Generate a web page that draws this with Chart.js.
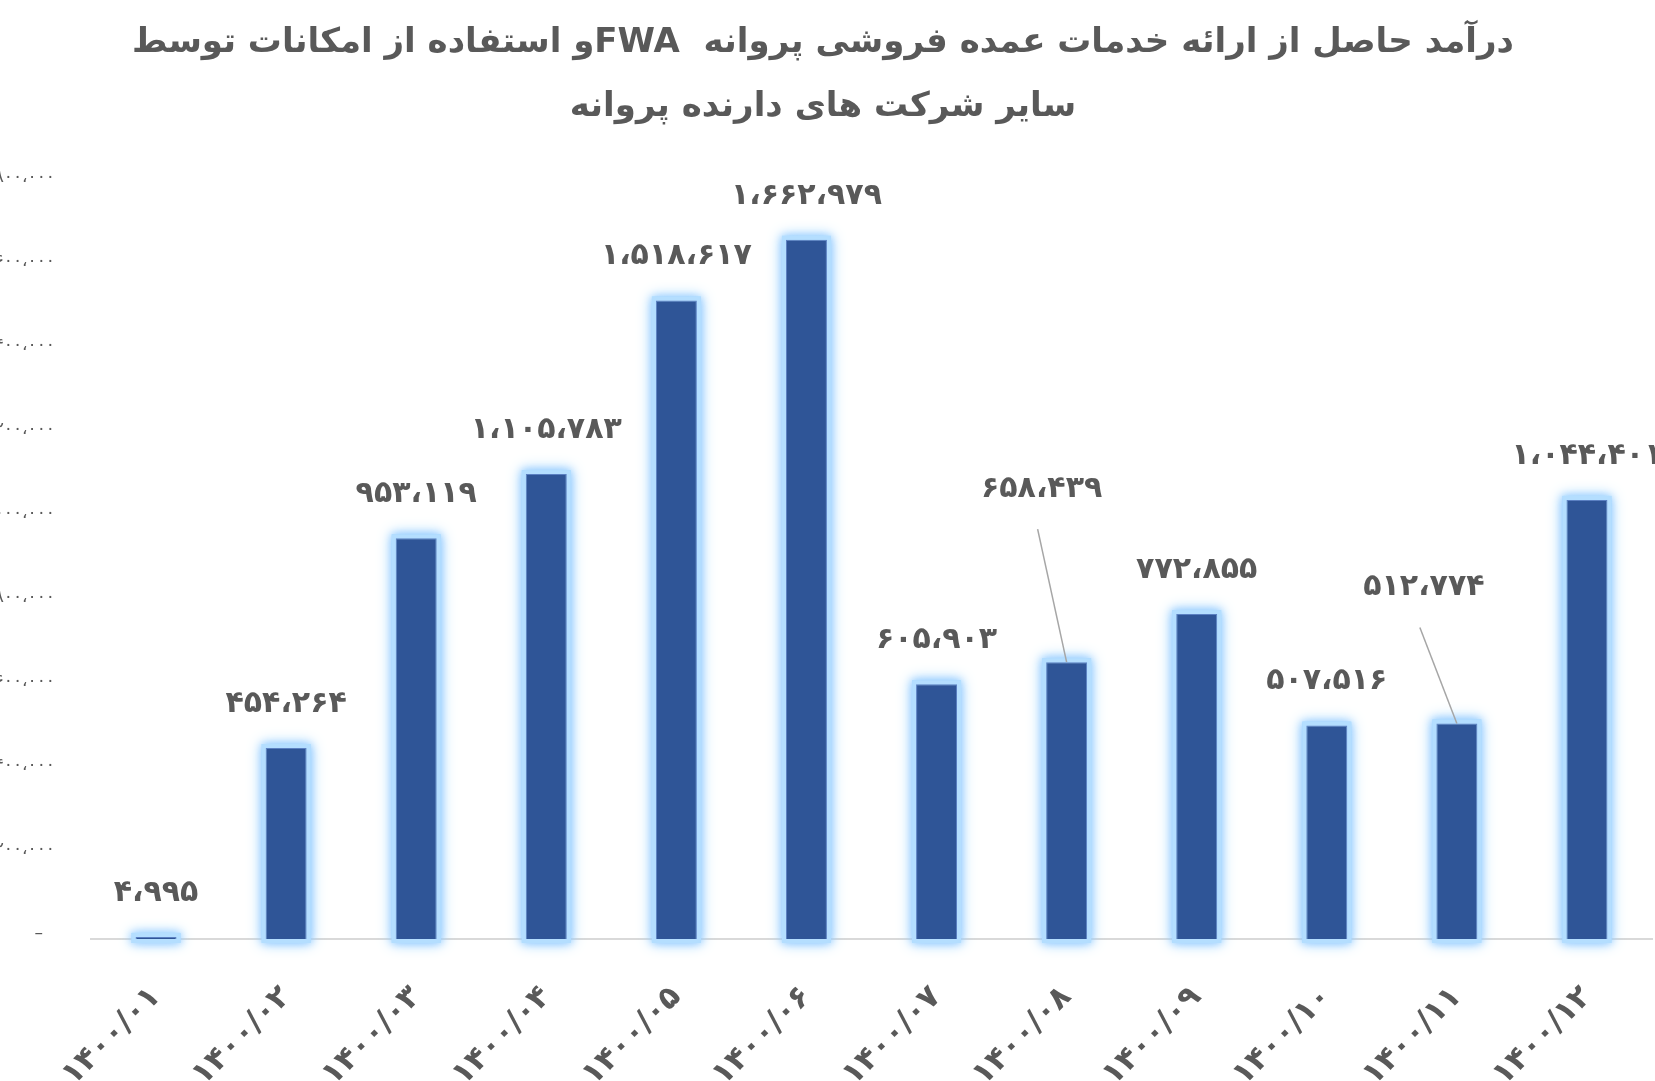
<!DOCTYPE html>
<html><head><meta charset="utf-8">
<script src="https://cdn.jsdelivr.net/npm/chart.js@4.4.0/dist/chart.umd.min.js"></script>
<style>
html,body{margin:0;padding:0;background:#fff;overflow:hidden;width:1655px;height:1081px;position:relative;}
#c{position:absolute;left:-60px;top:0;}
</style></head><body>
<canvas id="c" dir="rtl" width="1760" height="1081"></canvas>
<script>
const categories = ['۱۴۰۰/۰۱','۱۴۰۰/۰۲','۱۴۰۰/۰۳','۱۴۰۰/۰۴','۱۴۰۰/۰۵','۱۴۰۰/۰۶','۱۴۰۰/۰۷','۱۴۰۰/۰۸','۱۴۰۰/۰۹','۱۴۰۰/۱۰','۱۴۰۰/۱۱','۱۴۰۰/۱۲'];
const revenue = [4995, 454264, 953119, 1105783, 1518617, 1662979, 605903, 658439, 772855, 507516, 512774, 1044401];
const yTickValues = [0, 200000, 400000, 600000, 800000, 1000000, 1200000, 1400000, 1600000, 1800000];
const titleLines = ['درآمد حاصل از ارائه خدمات عمده فروشی پروانه  FWAو استفاده از امکانات توسط', 'سایر شرکت های دارنده پروانه'];

const faDigits = '۰۱۲۳۴۵۶۷۸۹';
function toFa(n){
  return Math.round(n).toLocaleString('en-US').replace(/,/g,'،').replace(/[0-9]/g, d => faDigits[+d]);
}

// label placement (style): shift in px relative to default spot above each bar
const labelStyle = {
  dy: [44,44,44,44,44,44,44,173,44,44,136,44],
  dx: [0,0,0,0,0,0,0,-25,0,0,-33,0],
  leader: [false,false,false,false,false,false,false,true,false,false,true,false]
};

const glowPlugin = {
  id: 'glow',
  beforeDatasetsDraw(chart){
    const ctx = chart.ctx;
    const meta = chart.getDatasetMeta(0);
    ctx.save();
    ctx.fillStyle = 'rgba(180,222,255,1)';
    ctx.shadowColor = 'rgba(150,205,255,1)';
    ctx.shadowOffsetX = 0; ctx.shadowOffsetY = 0;
    [14, 8].forEach(blur => {
      ctx.shadowBlur = blur;
      meta.data.forEach(el => {
        const p = el.getProps(['x','y','base','width'], true);
        const g = 4;
        const top = Math.min(p.y, p.base), bot = Math.max(p.y, p.base);
        ctx.fillRect(p.x - p.width/2 - g, top - g, p.width + 2*g, bot - top + 2*g);
      });
    });
    ctx.restore();
  }
};

const labelPlugin = {
  id: 'valueLabels',
  afterDraw(chart){
    const ctx = chart.ctx;
    const meta = chart.getDatasetMeta(0);
    ctx.save();
    ctx.font = 'bold 30px "DejaVu Sans"';
    ctx.fillStyle = '#595959';
    ctx.textAlign = 'center';
    ctx.textBaseline = 'middle';
    meta.data.forEach((el, i) => {
      const v = chart.data.datasets[0].data[i];
      const x = el.x + labelStyle.dx[i];
      const y = el.y - labelStyle.dy[i];
      ctx.fillText(toFa(v), x, y);
      if (labelStyle.leader[i]) {
        ctx.beginPath();
        ctx.strokeStyle = '#a6a6a6';
        ctx.lineWidth = 1.5;
        ctx.moveTo(x - 4, y + 40);
        ctx.lineTo(el.x, el.y);
        ctx.stroke();
      }
    });
    ctx.restore();
  }
};

new Chart(document.getElementById('c'), {
  type: 'bar',
  data: {
    labels: categories,
    datasets: [{
      data: revenue,
      backgroundColor: '#2f5597',
      borderColor: '#5b80c2',
      borderWidth: 1,
      barPercentage: 0.63,
      categoryPercentage: 0.5
    }]
  },
  options: {
    responsive: false,
    animation: false,
    devicePixelRatio: 1,
    layout: { padding: { left: 54, right: 48, top: 0, bottom: 0 } },
    plugins: {
      legend: { display: false },
      tooltip: { enabled: false },
      title: {
        display: true,
        text: titleLines,
        color: '#595959',
        font: { family: '"DejaVu Sans"', size: 34, weight: 'bold', lineHeight: 1.9 },
        padding: { top: 10.5, bottom: 42.5 }
      }
    },
    scales: {
      x: {
        grid: { display: true, drawOnChartArea: false, drawTicks: false },
        border: { display: true, color: '#d9d9d9', width: 2 },
        ticks: {
          autoSkip: false, minRotation: 45, maxRotation: 45,
          color: '#595959', padding: 40,
          font: { family: '"DejaVu Sans"', size: 31, weight: 'bold' }
        },
        afterFit(s){ s.height = 142; }
      },
      y: {
        min: 0, max: 1800000,
        grid: { display: false, drawTicks: false },
        border: { display: false },
        afterBuildTicks(s){ s.ticks = yTickValues.map(v => ({ value: v })); },
        afterFit(s){ s.width = 97; },
        ticks: {
          color: '#595959', padding: 36, labelOffset: -5,
          font: { family: '"DejaVu Sans"', size: 17 },
          callback: v => v === 0 ? '\u2002\u2009–' : toFa(v)
        }
      }
    }
  },
  plugins: [glowPlugin, labelPlugin]
});
</script>
</body></html>
